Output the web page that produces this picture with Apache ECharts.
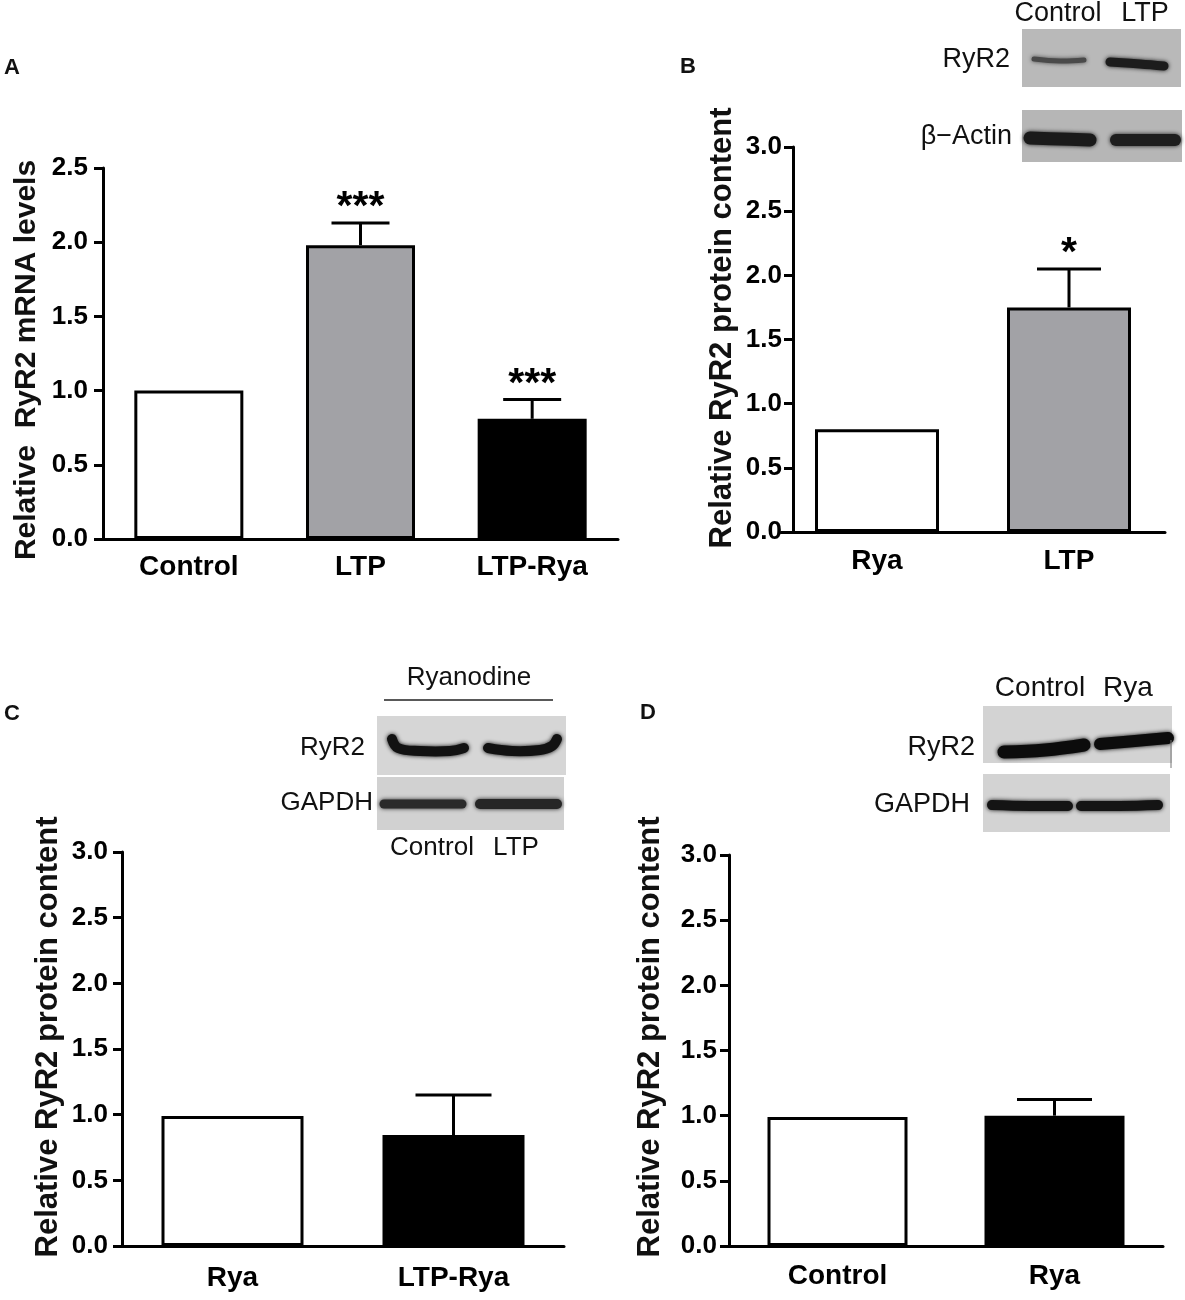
<!DOCTYPE html>
<html><head><meta charset="utf-8">
<script src="https://cdn.jsdelivr.net/npm/echarts@6/dist/echarts.min.js"></script>
<style>html,body{margin:0;padding:0;background:#fff}#c{width:1185px;height:1300px}</style>
</head><body><div id="c"></div>
<script>
// ---- data ----
const catsA = ['Control', 'LTP', 'LTP-Rya'];
const valsA = [1.00, 1.98, 0.81];
const errA  = [0, 0.15, 0.13];
const sigA  = ['', '***', '***'];

const catsB = ['Rya', 'LTP'];
const valsB = [0.80, 1.75];
const errB  = [0, 0.30];
const sigB  = ['', '*'];

const catsC = ['Rya', 'LTP-Rya'];
const valsC = [0.99, 0.845];
const errC  = [0, 0.305];
const sigC  = ['', ''];

const catsD = ['Control', 'Rya'];
const valsD = [0.99, 1.00];
const errD  = [0, 0.125];
const sigD  = ['', ''];

const yTicksA = [0.0, 0.5, 1.0, 1.5, 2.0, 2.5];
const yTicksP = [0.0, 0.5, 1.0, 1.5, 2.0, 2.5, 3.0];

const titleA = 'Relative  RyR2 mRNA levels';
const titleP = 'Relative RyR2 protein content';

// ---- styles / layout ----
const FONT = '"Liberation Sans", Arial, Helvetica, sans-serif';
const WHITE = '#ffffff', GRAY = '#a2a2a6', BLACK = '#000000';

const panels = [
  {cats: catsA, vals: valsA, err: errA, sig: sigA, ticks: yTicksA, colors: [WHITE, GRAY, BLACK],
   grid: {left: 103, top: 168, width: 515, height: 371}, barW: 109, capW: 58, xMargin: 14, yMargin: 15, yOffset: 0},
  {cats: catsB, vals: valsB, err: errB, sig: sigB, ticks: yTicksP, colors: [WHITE, GRAY],
   grid: {left: 781, top: 147, width: 384, height: 385}, barW: 124, capW: 64, xMargin: 15, yMargin: 11, yOffset: -12},
  {cats: catsC, vals: valsC, err: errC, sig: sigC, ticks: yTicksP, colors: [WHITE, BLACK],
   grid: {left: 122, top: 852, width: 442, height: 394}, barW: 142, capW: 76, xMargin: 18, yMargin: 14, yOffset: 0},
  {cats: catsD, vals: valsD, err: errD, sig: sigD, ticks: yTicksP, colors: [WHITE, BLACK],
   grid: {left: 729, top: 855, width: 434, height: 391}, barW: 140, capW: 75, xMargin: 16, yMargin: 12, yOffset: 0}
];

const grids = [], xAxes = [], yAxes = [], series = [];
panels.forEach((p, k) => {
  grids.push(Object.assign({containLabel: false, outerBoundsMode: 'none'}, p.grid));
  xAxes.push({
    type: 'category', gridIndex: k, data: p.cats, boundaryGap: true,
    axisLine: {show: true, lineStyle: {color: '#000', width: 3}},
    axisTick: {show: false},
    axisLabel: {color: '#000', fontFamily: FONT, fontWeight: 'bold', fontSize: 28, margin: p.xMargin, interval: 0}
  });
  yAxes.push({
    type: 'value', gridIndex: k, offset: p.yOffset,
    min: p.ticks[0], max: p.ticks[p.ticks.length - 1], interval: 0.5,
    axisLine: {show: true, lineStyle: {color: '#000', width: 3}},
    axisTick: {show: true, inside: false, length: 9, lineStyle: {color: '#000', width: 3}},
    splitLine: {show: false},
    axisLabel: {color: '#000', fontFamily: FONT, fontWeight: 'bold', fontSize: 26, margin: p.yMargin,
                formatter: v => v.toFixed(1)}
  });
  series.push({
    type: 'bar', xAxisIndex: k, yAxisIndex: k, barWidth: p.barW, z: 2,
    itemStyle: {borderColor: '#000', borderWidth: 3},
    data: p.vals.map((v, i) => ({value: v, itemStyle: {color: p.colors[i]}}))
  });
  const sig = p.sig, capW = p.capW;
  series.push({
    type: 'custom', xAxisIndex: k, yAxisIndex: k, z: 3,
    encode: {x: 0, y: [1, 2]},
    data: p.vals.map((v, i) => [i, v, v + p.err[i]]),
    renderItem: function (params, api) {
      const i = api.value(0), v = api.value(1), t = api.value(2);
      const p0 = api.coord([i, v]), p1 = api.coord([i, t]);
      const ch = [];
      if (t > v) {
        ch.push({type: 'line', shape: {x1: p0[0], y1: p0[1], x2: p1[0], y2: p1[1]}, style: {stroke: '#000', lineWidth: 3}});
        ch.push({type: 'line', shape: {x1: p1[0] - capW / 2, y1: p1[1], x2: p1[0] + capW / 2, y2: p1[1]}, style: {stroke: '#000', lineWidth: 3}});
      }
      const s = sig[params.dataIndex];
      if (s) ch.push({type: 'text', x: p1[0], y: p1[1] - 15,
        style: {text: s, fill: '#000', font: 'bold 41px ' + FONT, align: 'center', verticalAlign: 'middle',
                textAlign: 'center', textVerticalAlign: 'middle'}});
      return {type: 'group', children: ch};
    }
  });
});

// ---- graphic: panel letters, axis titles, blot insets ----
function txt(text, x, y, size, weight, align, rot) {
  return {type: 'text', x: x, y: y, rotation: rot || 0, z: 10,
    style: {text: text, fill: '#111', font: (weight || 'normal') + ' ' + size + 'px ' + FONT,
            align: align || 'center', verticalAlign: 'middle', textAlign: align || 'center', textVerticalAlign: 'middle'}};
}
function box(x, y, w, h, c) {
  return {type: 'rect', shape: {x: x, y: y, width: w, height: h}, style: {fill: c}, z: 5};
}
function band(pts, lw, c) {
  return {type: 'polyline', shape: {points: pts, smooth: 0.4},
    style: {stroke: c, lineWidth: lw, lineCap: 'round', lineJoin: 'round', fill: null, shadowBlur: 4, shadowColor: c}, z: 6};
}
const R = Math.PI / 2;
const graphic = [
  txt('A', 12, 68, 22, 'bold'), txt('B', 688, 67, 22, 'bold'),
  txt('C', 12, 714, 22, 'bold'), txt('D', 648, 713, 22, 'bold'),
  txt(titleA, 27, 360, 30, 'bold', 'center', R),
  txt(titleP, 722, 328, 31, 'bold', 'center', R),
  txt(titleP, 48, 1037, 31, 'bold', 'center', R),
  txt(titleP, 650, 1037, 31, 'bold', 'center', R),
  // B blot
  box(1022, 29, 159, 58, '#b9b9b9'), box(1022, 110, 160, 52, '#b6b6b6'),
  band([[1034, 59], [1060, 61], [1084, 60]], 5, '#4a4a4a'),
  band([[1110, 62], [1140, 64], [1164, 66]], 9, '#1c1c1c'),
  band([[1030, 138], [1060, 139], [1090, 140]], 13, '#1a1a1a'),
  band([[1116, 140], [1146, 140], [1175, 140]], 12, '#1e1e1e'),
  txt('Control', 1058, 14, 27), txt('LTP', 1145, 14, 27),
  txt('RyR2', 1010, 60, 27, 'normal', 'right'), txt('β−Actin', 1012, 137, 27, 'normal', 'right'),
  // C blot
  txt('Ryanodine', 469, 678, 26),
  {type: 'line', shape: {x1: 384, y1: 700, x2: 553, y2: 700}, style: {stroke: '#222', lineWidth: 1.5}, z: 5},
  box(377, 716, 189, 59, '#d6d6d6'), box(377, 777, 187, 53, '#d1d1d1'),
  band([[392, 739], [398, 748], [420, 751], [450, 751], [464, 748]], 10, '#121212'),
  band([[488, 748], [512, 751], [540, 750], [552, 746], [557, 739]], 10, '#121212'),
  band([[384, 804], [423, 804], [462, 804]], 9, '#2a2a2a'),
  band([[480, 804], [518, 804], [557, 804]], 10, '#262626'),
  txt('RyR2', 365, 748, 26, 'normal', 'right'), txt('GAPDH', 373, 803, 26, 'normal', 'right'),
  txt('Control', 432, 848, 26), txt('LTP', 516, 848, 26),
  // D blot
  box(983, 706, 189, 57, '#d3d3d3'), box(983, 774, 187, 58, '#d3d3d3'),
  band([[1004, 752], [1045, 750], [1084, 745]], 13, '#0c0c0c'),
  band([[1100, 744], [1135, 741], [1168, 738]], 12, '#0c0c0c'),
  band([[992, 805], [1030, 806], [1068, 806]], 10, '#141414'),
  band([[1081, 806], [1120, 806], [1158, 805]], 10, '#141414'),
  {type: 'line', shape: {x1: 1171, y1: 740, x2: 1171, y2: 768}, style: {stroke: '#777', lineWidth: 1}, z: 6},
  txt('Control', 1040, 688, 28), txt('Rya', 1128, 688, 28),
  txt('RyR2', 975, 748, 27, 'normal', 'right'), txt('GAPDH', 970, 805, 27, 'normal', 'right')
];

const chart = echarts.init(document.getElementById('c'), null, {renderer: 'canvas'});
chart.setOption({
  animation: false, backgroundColor: '#fff',
  grid: grids, xAxis: xAxes, yAxis: yAxes, series: series, graphic: graphic
});
</script></body></html>
